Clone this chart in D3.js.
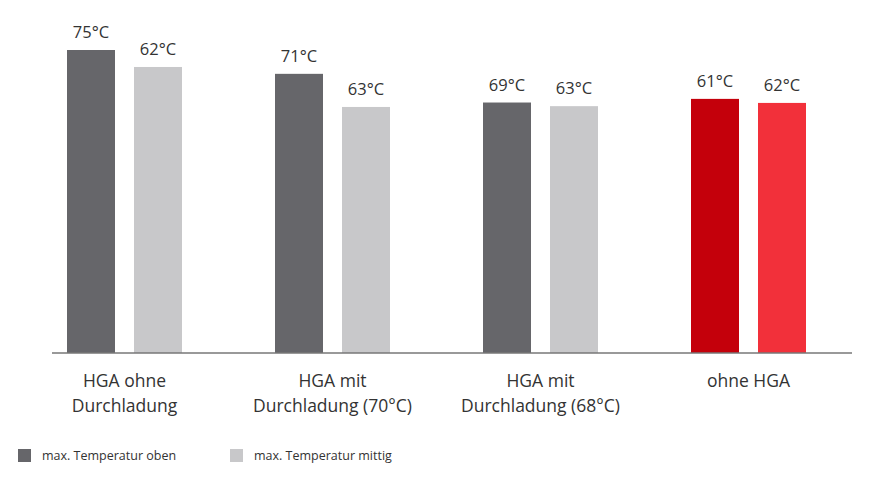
<!DOCTYPE html>
<html><head><meta charset="utf-8">
<script src="https://cdn.jsdelivr.net/npm/d3@7"></script>
<style>body{margin:0;background:#fff}text{font-family:"Open Sans","Noto Sans",sans-serif}</style>
</head><body><svg id="c" width="872" height="484"></svg>
<script>
const categories = [["HGA ohne","Durchladung"],["HGA mit","Durchladung (70°C)"],["HGA mit","Durchladung (68°C)"],["ohne HGA"]];
const seriesNames = ["max. Temperatur oben","max. Temperatur mittig"];
const labelsOben = ["75°C","71°C","69°C","61°C"];
const labelsMittig = ["62°C","63°C","63°C","62°C"];
// bar heights as drawn in the reference (not proportional to the labels)
const barOben = [75, 69.1, 62.0, 62.9];
const barMittig = [70.8, 60.9, 61.1, 61.9];
const colOben = ["#66666a","#66666a","#66666a","#c4000b"];
const colMittig = ["#c8c8ca","#c8c8ca","#c8c8ca","#f2303a"];

const svg = d3.select("#c");
const base = 353;
const y = d3.scaleLinear().domain([0,75]).range([base, 50]);
const x0 = d3.scaleBand().domain(d3.range(4)).range([20.5,852.5]);
const bw = 48, gap = 19;
categories.forEach((c,i)=>{
  const cx = x0(i)+x0.bandwidth()/2;
  const xs = [cx-gap/2-bw, cx+gap/2];
  [[barOben,colOben,labelsOben],[barMittig,colMittig,labelsMittig]].forEach(([v,col,lab],k)=>{
    svg.append("rect").attr("x",xs[k]).attr("y",y(v[i])).attr("width",bw).attr("height",base-y(v[i])).attr("fill",col[i]);
    svg.append("text").attr("x",xs[k]+bw/2).attr("y",y(v[i])-12).attr("text-anchor","middle")
      .attr("font-size",16.5).attr("fill","#333").text(lab[i]);
  });
  c.forEach((l,j)=>svg.append("text").attr("x",cx).attr("y",387+j*25).attr("text-anchor","middle")
    .attr("font-size",17.5).attr("fill","#333").text(l));
});
svg.append("line").attr("x1",52).attr("x2",852).attr("y1",base).attr("y2",base).attr("stroke","#777").attr("stroke-width",1.5);
[[18,"#66666a"],[230,"#c8c8ca"]].forEach(([lx,c],k)=>{
  svg.append("rect").attr("x",lx).attr("y",449).attr("width",13).attr("height",13).attr("fill",c);
  svg.append("text").attr("x",lx+24).attr("y",460).attr("font-size",12.5).attr("fill","#333").text(seriesNames[k]);
});
</script></body></html>
